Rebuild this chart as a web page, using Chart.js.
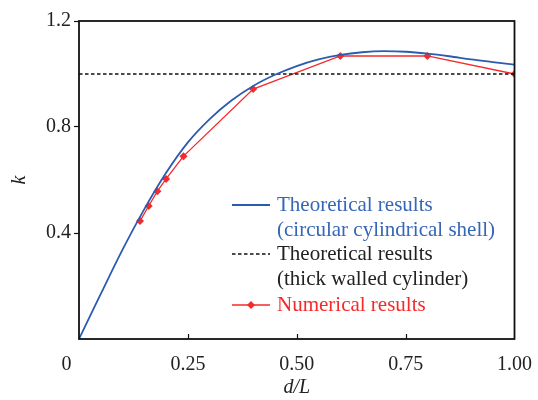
<!DOCTYPE html>
<html>
<head>
<meta charset="utf-8">
<script src="https://cdn.jsdelivr.net/npm/chart.js@4/dist/chart.umd.min.js"></script>
<style>
  html, body { margin: 0; padding: 0; background: #fff; }
  #wrap { width: 538px; height: 400px; }
</style>
</head>
<body>
<div id="wrap"><canvas id="chart"></canvas></div>
<script>
// Theoretical results (circular cylindrical shell)
const shellX = [0, 0.05, 0.1, 0.15, 0.2, 0.25, 0.3, 0.35, 0.4, 0.45, 0.5, 0.55, 0.6, 0.65, 0.7, 0.75, 0.8, 0.85, 0.9, 0.95, 1.0];
const shellK = [0, 0.17, 0.337, 0.49, 0.627, 0.742, 0.83, 0.9, 0.955, 0.997, 1.03, 1.055, 1.072, 1.082, 1.086, 1.084, 1.077, 1.067, 1.055, 1.045, 1.035];

// Theoretical results (thick walled cylinder)
const thickX = [0, 1];
const thickK = [1.0, 1.0];

// Numerical results
const numX = [0.14, 0.16, 0.18, 0.2, 0.24, 0.4, 0.6, 0.8, 1.0];
const numK = [0.445, 0.502, 0.558, 0.604, 0.69, 0.943, 1.068, 1.068, 1.0];

const xTicks = [0, 0.25, 0.5, 0.75, 1.0];
const yTicks = [0.4, 0.8, 1.2];

const BLUE = "#2b5cb0";
const BLUE_TEXT = "#3566b8";
const RED = "#f52a2a";
const SERIF = "'Liberation Serif', 'Times New Roman', serif";

const toPoints = (xs, ys) => xs.map((x, i) => ({ x: x, y: ys[i] }));

// box round the plot, inward x ticks, legend inside the plot
const framePlugin = {
  id: "frame",
  afterDraw(chart) {
    const { ctx, chartArea, scales } = chart;
    ctx.save();
    ctx.strokeStyle = "#111";
    ctx.lineWidth = 1.8;
    ctx.strokeRect(chartArea.left, chartArea.top, chartArea.right - chartArea.left, chartArea.bottom - chartArea.top);

    // x ticks point up into the plot
    ctx.lineWidth = 1.2;
    xTicks.forEach((v) => {
      if (v === 0 || v === 1) return;
      const px = Math.round(scales.x.getPixelForValue(v)) + 0.5;
      ctx.beginPath();
      ctx.moveTo(px, chartArea.bottom);
      ctx.lineTo(px, chartArea.bottom - 5);
      ctx.stroke();
    });

    // legend
    const lx0 = 232, lx1 = 270, tx = 277;
    const rows = [
      { ds: 0, y: 205, lines: ["Theoretical results", "(circular cylindrical shell)"], color: BLUE_TEXT },
      { ds: 1, y: 254, lines: ["Theoretical results", "(thick walled cylinder)"], color: "#222" },
      { ds: 2, y: 305, lines: ["Numerical results"], color: RED },
    ];
    ctx.font = "21px " + SERIF;
    ctx.textBaseline = "middle";
    ctx.textAlign = "left";
    rows.forEach((r) => {
      const ds = chart.data.datasets[r.ds];
      ctx.strokeStyle = ds.borderColor;
      ctx.lineWidth = ds.borderWidth;
      ctx.setLineDash(ds.borderDash || []);
      ctx.beginPath();
      ctx.moveTo(lx0, r.y);
      ctx.lineTo(lx1, r.y);
      ctx.stroke();
      ctx.setLineDash([]);
      if (ds.pointRadius > 0) {
        const cx = (lx0 + lx1) / 2;
        ctx.fillStyle = ds.pointBackgroundColor;
        ctx.beginPath();
        ctx.moveTo(cx, r.y - 4);
        ctx.lineTo(cx + 4, r.y);
        ctx.lineTo(cx, r.y + 4);
        ctx.lineTo(cx - 4, r.y);
        ctx.closePath();
        ctx.fill();
      }
      ctx.fillStyle = r.color;
      r.lines.forEach((t, i) => ctx.fillText(t, tx, r.y + i * 25));
    });
    ctx.restore();
  },
};

new Chart(document.getElementById("chart"), {
  type: "scatter",
  data: {
    datasets: [
      {
        label: "Theoretical results (circular cylindrical shell)",
        data: toPoints(shellX, shellK),
        showLine: true,
        borderColor: BLUE,
        borderWidth: 1.8,
        pointRadius: 0,
        cubicInterpolationMode: "monotone",
      },
      {
        label: "Theoretical results (thick walled cylinder)",
        data: toPoints(thickX, thickK),
        showLine: true,
        borderColor: "#111",
        borderWidth: 1.6,
        borderDash: [3.5, 2.5],
        pointRadius: 0,
      },
      {
        label: "Numerical results",
        data: toPoints(numX, numK),
        showLine: true,
        borderColor: RED,
        borderWidth: 1.3,
        pointStyle: "rectRot",
        pointRadius: 4,
        pointBackgroundColor: RED,
        pointBorderColor: RED,
        pointBorderWidth: 0,
      },
    ],
  },
  options: {
    responsive: true,
    maintainAspectRatio: false,
    animation: false,
    layout: { padding: { top: 21, right: 20, left: 0, bottom: 0 } },
    plugins: {
      legend: { display: false },
      tooltip: { enabled: false },
    },
    scales: {
      x: {
        type: "linear",
        min: 0,
        max: 1,
        afterBuildTicks: (scale) => {
          scale.ticks = xTicks.map((v) => ({ value: v }));
        },
        afterFit: (scale) => {
          scale.height = 61;
        },
        grid: { display: false },
        border: { display: false },
        ticks: {
          color: "#222",
          font: { family: SERIF, size: 20 },
          padding: 6,
          maxRotation: 0,
          callback: (v) => (v === 0 ? "0     " : v.toFixed(2)),
        },
        title: {
          display: true,
          text: "d/L",
          color: "#222",
          font: { family: SERIF, size: 20, style: "italic" },
          padding: { top: 0, bottom: 0 },
        },
      },
      y: {
        min: 0,
        max: 1.2,
        afterBuildTicks: (scale) => {
          scale.ticks = yTicks.map((v) => ({ value: v }));
        },
        afterFit: (scale) => {
          scale.width = 79;
        },
        grid: {
          drawOnChartArea: false,
          drawTicks: true,
          tickLength: 5,
          tickWidth: 1.2,
          color: "#111",
        },
        border: { display: false },
        ticks: {
          color: "#222",
          font: { family: SERIF, size: 20 },
          padding: 3,
          callback: (v) => v.toFixed(1),
        },
        title: {
          display: true,
          text: "k",
          color: "#222",
          font: { family: SERIF, size: 20, style: "italic" },
          padding: { top: 8, bottom: 0 },
        },
      },
    },
  },
  plugins: [framePlugin],
});
</script>
</body>
</html>
